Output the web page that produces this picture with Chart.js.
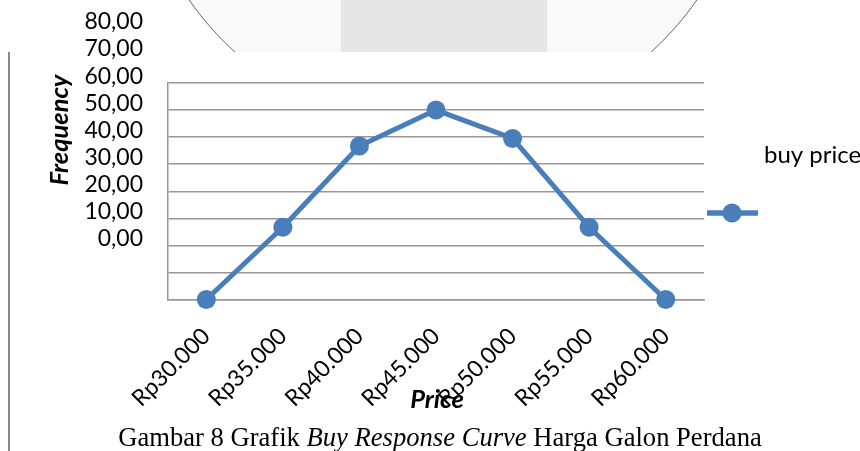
<!DOCTYPE html>
<html>
<head>
<meta charset="utf-8">
<script src="https://cdn.jsdelivr.net/npm/chart.js@4/dist/chart.umd.min.js"></script>
<style>
html,body{margin:0;padding:0;background:#fff;}
#wrap{position:relative;width:860px;height:451px;overflow:hidden;background:#fff;}
#wm{position:absolute;left:0;top:0;width:860px;height:52px;overflow:hidden;}
#circle{position:absolute;left:133px;top:-487px;width:620px;height:620px;border-radius:50%;background:#f9f9f9;border:1px solid #666;box-sizing:border-box;overflow:hidden;}
#band{position:absolute;left:207px;top:0;width:206px;height:100%;background:#e6e6e7;}
#frame{position:absolute;left:8px;top:52px;width:2px;height:399px;background:#8a8a8a;}
#c{position:absolute;left:0;top:0;}
#cap{position:absolute;left:10px;top:424px;width:860px;text-align:center;font-family:'Liberation Serif','Times New Roman',serif;font-size:26.6px;line-height:26px;color:#000;white-space:nowrap;}
</style>
</head>
<body>
<div id="wrap">
  <div id="wm"><div id="circle"><div id="band"></div></div></div>
  <div id="frame"></div>
  <canvas id="c" width="860" height="451"></canvas>
  <div id="cap">Gambar 8 Grafik <i>Buy Response Curve</i> Harga Galon Perdana</div>
</div>
<script>
const categories = ['Rp30.000','Rp35.000','Rp40.000','Rp45.000','Rp50.000','Rp55.000','Rp60.000'];
const buyPrice = [0, 26.7, 56.7, 70, 59.5, 26.7, 0];
const yTicks = [0, 10, 20, 30, 40, 50, 60, 70, 80];
const seriesName = 'buy price';
const xTitle = 'Price';
const yTitle = 'Frequency';

const BLUE = '#4a7ebb';
const GRID = '#979797';
const FONT = 'Lato';

const overlay = {
  id: 'overlay',
  afterDraw(chart) {
    const ctx = chart.ctx;
    ctx.save();
    ctx.fillStyle = '#000';
    // y title
    ctx.font = 'italic bold 25.5px ' + FONT;
    ctx.textAlign = 'center';
    ctx.textBaseline = 'middle';
    ctx.save();
    ctx.translate(60, 130);
    ctx.rotate(-Math.PI / 2);
    ctx.fillText(yTitle, 0, 0);
    ctx.restore();
    // x title
    ctx.fillText(xTitle, 437, 400);
    // legend
    ctx.font = '24px ' + FONT;
    ctx.textAlign = 'left';
    ctx.fillText(seriesName, 764, 155);
    ctx.strokeStyle = BLUE;
    ctx.lineWidth = 5.5;
    ctx.beginPath();
    ctx.moveTo(707, 213);
    ctx.lineTo(758, 213);
    ctx.stroke();
    ctx.fillStyle = BLUE;
    ctx.beginPath();
    ctx.arc(732, 213, 9.5, 0, Math.PI * 2);
    ctx.fill();
    ctx.restore();
  }
};

new Chart(document.getElementById('c'), {
  type: 'line',
  data: {
    labels: categories,
    datasets: [{
      label: seriesName,
      data: buyPrice,
      borderColor: BLUE,
      backgroundColor: BLUE,
      borderWidth: 5,
      pointRadius: 9.5,
      pointBackgroundColor: BLUE,
      pointBorderColor: BLUE,
      pointBorderWidth: 0,
      tension: 0,
      clip: false
    }]
  },
  options: {
    responsive: false,
    animation: false,
    layout: { padding: { left: 0, right: 156, top: 83, bottom: 0 } },
    plugins: { legend: { display: false }, title: { display: false }, tooltip: { enabled: false } },
    scales: {
      x: {
        type: 'category',
        offset: true,
        grid: { display: false, drawTicks: false },
        border: { display: true, color: GRID, width: 1.5 },
        ticks: { autoSkip: false, minRotation: 45, maxRotation: 45, padding: 23, color: '#000', font: { family: FONT, size: 23 } },
        afterFit(s) { s.height = 151.5; }
      },
      y: {
        min: 0, max: 80,
        grid: { color: GRID, lineWidth: 1.5, drawTicks: false },
        border: { display: true, color: GRID, width: 1.5 },
        afterBuildTicks(s) { s.ticks = yTicks.map(v => ({ value: v })); },
        ticks: {
          autoSkip: false,
          padding: 25, labelOffset: -61, color: '#000',
          font: { family: FONT, size: 23 },
          callback: v => Number(v).toFixed(2).replace('.', ',')
        },
        afterFit(s) { s.width = 168; }
      }
    }
  },
  plugins: [overlay]
});
</script>
</body>
</html>
